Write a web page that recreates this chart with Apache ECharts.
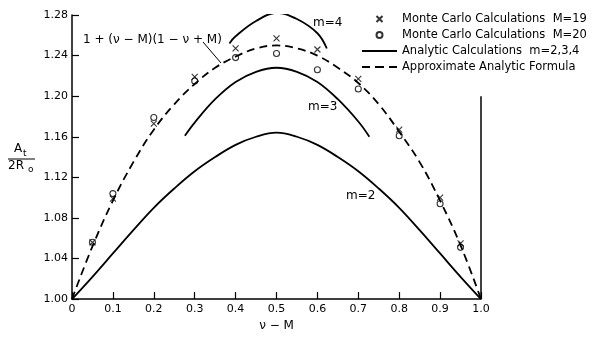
<!DOCTYPE html>
<html><head><meta charset="utf-8">
<script src="https://cdn.jsdelivr.net/npm/echarts@6/dist/echarts.min.js"></script>
<style>html,body{margin:0;padding:0;background:#fff}#c{width:594px;height:337px}</style>
</head><body><div id="c"></div>
<script>
// ---- data ----
const xTickLabels = ['0','0.1','0.2','0.3','0.4','0.5','0.6','0.7','0.8','0.9','1.0'];
const yTickLabels = ['1.00','1.04','1.08','1.12','1.16','1.20','1.24','1.28'];

const mcX   = [0.05, 0.1, 0.2, 0.3, 0.4, 0.5, 0.6, 0.7, 0.8, 0.9, 0.95];
const mcM19 = [1.056, 1.099, 1.173, 1.219, 1.247, 1.257, 1.246, 1.217, 1.167, 1.100, 1.055];
const mcM20 = [1.056, 1.104, 1.179, 1.215, 1.238, 1.242, 1.226, 1.207, 1.161, 1.094, 1.051];

const approxX = [0, 0.05, 0.1, 0.15, 0.2, 0.25, 0.3, 0.35, 0.4, 0.45, 0.5, 0.55, 0.6, 0.65, 0.7, 0.75, 0.8, 0.85, 0.9, 0.95, 1.0];
const approxY = [1.0, 1.052, 1.097, 1.135, 1.167, 1.192, 1.212, 1.228, 1.239, 1.247, 1.250, 1.247, 1.240, 1.228, 1.213, 1.192, 1.165, 1.135, 1.097, 1.053, 1.0];

const m2X = [0, 0.05, 0.1, 0.15, 0.2, 0.25, 0.3, 0.35, 0.4, 0.45, 0.5, 0.55, 0.6, 0.65, 0.7, 0.75, 0.8, 0.85, 0.9, 0.95, 1.0];
const m2Y = [1.0, 1.022, 1.045, 1.068, 1.090, 1.109, 1.126, 1.140, 1.152, 1.160, 1.164, 1.160, 1.152, 1.140, 1.126, 1.109, 1.090, 1.068, 1.045, 1.022, 1.0];

const m3X = [0.276, 0.3, 0.35, 0.4, 0.45, 0.5, 0.55, 0.6, 0.65, 0.7, 0.727];
const m3Y = [1.161, 1.174, 1.197, 1.214, 1.224, 1.228, 1.224, 1.214, 1.197, 1.175, 1.160];

const m4X = [0.385, 0.4, 0.45, 0.5, 0.55, 0.6, 0.623];
const m4Y = [1.252, 1.259, 1.274, 1.282, 1.276, 1.262, 1.247];

const edgeX = [1.0, 1.0];
const edgeY = [1.0, 1.2];

const names = {
  m19: 'Monte Carlo Calculations  M=19',
  m20: 'Monte Carlo Calculations  M=20',
  an:  'Analytic Calculations  m=2,3,4',
  ap:  'Approximate Analytic Formula'
};
// ----------------------------------------
const zip = (xs, ys) => xs.map((x, i) => [x, ys[i]]);
const FONT = 'DejaVu Sans';
const solid = {color: '#000', width: 1.8, type: 'solid'};
const crossPath = 'path://M0,0L10,10M10,0L0,10';
const solidIcon = 'path://M0,0L35,0L35,1.8L0,1.8Z';
const dashIcon = 'path://M0,0L8,0L8,1.8L0,1.8Z M13,0L22,0L22,1.8L13,1.8Z M27,0L35,0L35,1.8L27,1.8Z';

const chart = echarts.init(document.getElementById('c'), null, {renderer: 'canvas'});
chart.setOption({
  animation: false,
  backgroundColor: '#fff',
  textStyle: {fontFamily: FONT, color: '#000'},
  grid: {left: 72, right: 113, top: 15, bottom: 34, containLabel: false},
  legend: {
    orient: 'vertical', left: 362, top: 13, padding: 0, itemWidth: 35, itemHeight: 6, itemGap: 4,
    textStyle: {fontFamily: FONT, fontSize: 11.5, color: '#000', lineHeight: 12},
    data: [
      {name: names.m19},
      {name: names.m20},
      {name: names.an, icon: solidIcon, itemStyle: {color: '#000', borderWidth: 0}},
      {name: names.ap, icon: dashIcon, itemStyle: {color: '#000', borderWidth: 0}}
    ],
    selectedMode: false
  },
  xAxis: {
    type: 'value', min: 0, max: 1, interval: 0.1,
    name: 'ν − M', nameLocation: 'middle', nameGap: 17,
    nameTextStyle: {fontFamily: FONT, fontSize: 12, color: '#000'},
    axisLine: {lineStyle: {color: '#000', width: 1.5}},
    axisTick: {inside: true, length: 7, lineStyle: {color: '#000', width: 1.2}},
    axisLabel: {fontFamily: FONT, fontSize: 11, color: '#000', margin: 5,
      formatter: v => xTickLabels[Math.round(v * 10)]},
    splitLine: {show: false}
  },
  yAxis: {
    type: 'value', min: 1.0, max: 1.28, interval: 0.04,
    axisLine: {show: true, lineStyle: {color: '#000', width: 1.5}},
    axisTick: {show: true, inside: true, length: 7, lineStyle: {color: '#000', width: 1.2}},
    axisLabel: {fontFamily: FONT, fontSize: 11, color: '#000', margin: 4,
      formatter: v => yTickLabels[Math.round((v - 1) / 0.04)]},
    splitLine: {show: false}
  },
  series: [
    {name: names.ap, type: 'line', data: zip(approxX, approxY), smooth: 0.4, symbol: 'none',
      lineStyle: {color: '#000', width: 1.8, type: [8, 5]}, itemStyle: {color: '#000'}},
    {name: names.an, type: 'line', data: zip(m2X, m2Y), smooth: 0.4, symbol: 'none', lineStyle: solid, itemStyle: {color: '#000'}},
    {name: names.an, type: 'line', data: zip(m3X, m3Y), smooth: 0.4, symbol: 'none', lineStyle: solid, itemStyle: {color: '#000'}},
    {name: names.an, type: 'line', data: zip(m4X, m4Y), smooth: 0.4, symbol: 'none', lineStyle: solid, itemStyle: {color: '#000'}},
    {name: 'edge', type: 'line', data: zip(edgeX, edgeY), symbol: 'none', lineStyle: {color: '#000', width: 1.5}},
    {name: names.m19, type: 'scatter', data: zip(mcX, mcM19), symbol: crossPath, symbolSize: 6,
      itemStyle: {color: 'transparent', borderColor: '#000', borderWidth: 1.1}},
    {name: names.m20, type: 'scatter', data: zip(mcX, mcM20), symbol: 'circle', symbolSize: 6,
      itemStyle: {color: 'transparent', borderColor: '#000', borderWidth: 1.1}}
  ],
  graphic: [
    {type: 'text', left: 83, top: 34, style: {text: '1 + (ν − M)(1 − ν + M)', fontFamily: FONT, fontSize: 12, fill: '#000'}},
    {type: 'line', shape: {x1: 203, y1: 42, x2: 221, y2: 63}, style: {stroke: '#000', lineWidth: 1}},
    {type: 'text', left: 313, top: 17, style: {text: 'm=4', fontFamily: FONT, fontSize: 12, fill: '#000'}},
    {type: 'text', left: 308, top: 101, style: {text: 'm=3', fontFamily: FONT, fontSize: 12, fill: '#000'}},
    {type: 'text', left: 346, top: 190, style: {text: 'm=2', fontFamily: FONT, fontSize: 12, fill: '#000'}},
    {type: 'text', left: 14, top: 143, style: {text: 'A', fontFamily: FONT, fontSize: 12, fill: '#000'}},
    {type: 'text', left: 23, top: 149, style: {text: 't', fontFamily: FONT, fontSize: 9, fill: '#000'}},
    {type: 'line', shape: {x1: 8, y1: 159, x2: 35, y2: 159}, style: {stroke: '#000', lineWidth: 1}},
    {type: 'text', left: 8, top: 160, style: {text: '2R', fontFamily: FONT, fontSize: 12, fill: '#000'}},
    {type: 'text', left: 28, top: 165, style: {text: 'o', fontFamily: FONT, fontSize: 9, fill: '#000'}}
  ]
});
</script></body></html>
